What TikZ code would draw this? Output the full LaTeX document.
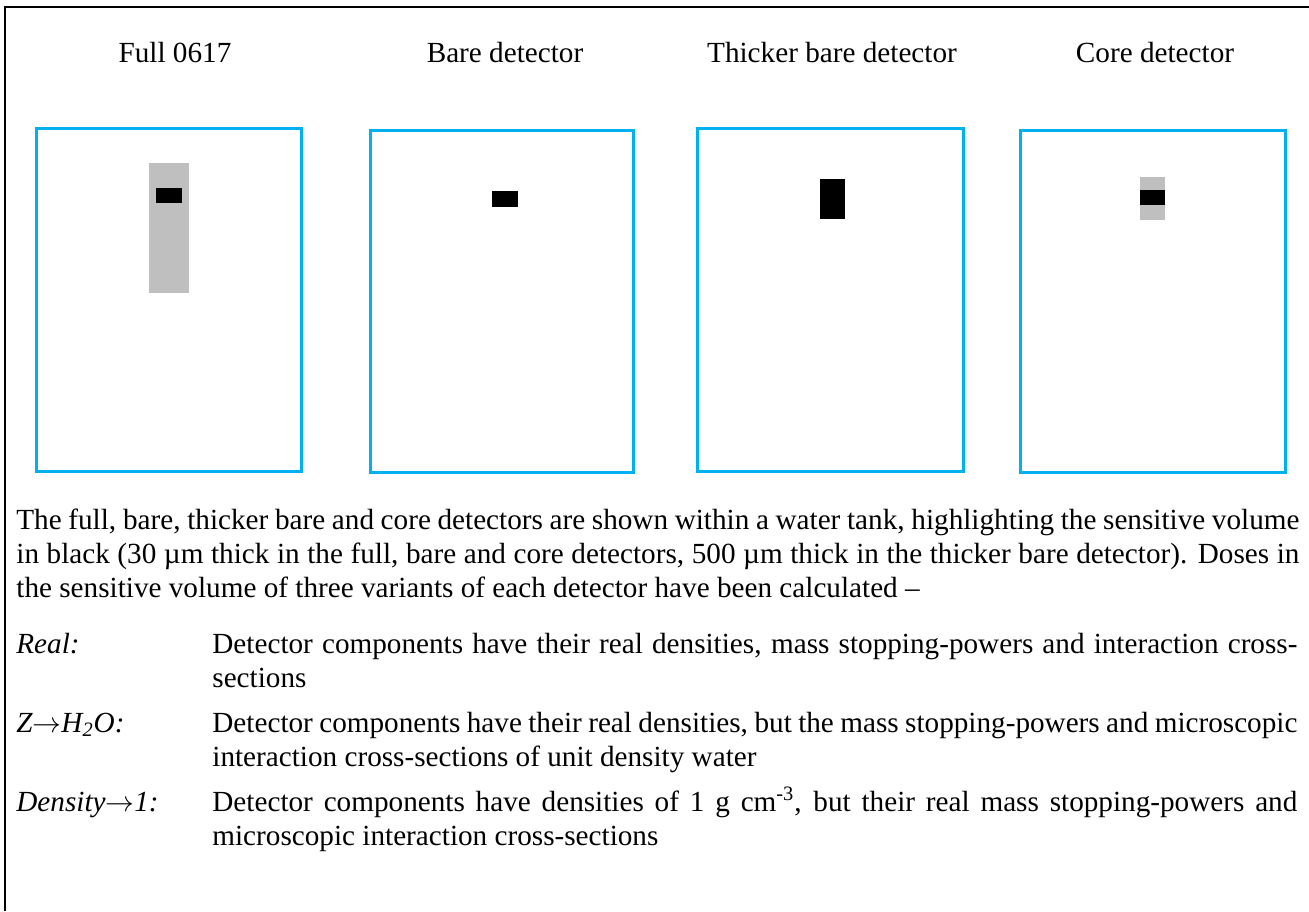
\documentclass[tikz,border=0pt]{standalone}
\usepackage{fontspec}
\setmainfont{Liberation Serif}
\usetikzlibrary{positioning}
\definecolor{tankblue}{RGB}{0,176,240}
\definecolor{holdergray}{RGB}{191,191,191}
\newcommand\bodyfont{\fontsize{14.6}{17}\selectfont}
\tikzset{
  tank/.style={draw=tankblue, line width=1.5pt},
  holder/.style={fill=holdergray},
  sensvol/.style={fill=black},
  title/.style={anchor=base, inner sep=0pt},
  txt/.style={anchor=base west, inner sep=0pt, align=justify},
  lab/.style={anchor=base west, inner sep=0pt, font=\bodyfont\itshape},
}
\begin{document}
\begin{tikzpicture}[x=0.5pt, y=-0.5pt, font=\bodyfont]
\useasboundingbox (0,0) rectangle (1309,911);
\draw[line width=1.25pt] (5,911) |- (1309,7);

% titles
\node[title] (t1) at (175,62) {Full 0617};
\node[title] (t2) at (505,62) {Bare detector};
\node[title] (t3) at (832,62) {Thicker bare detector};
\node[title] (t4) at (1155,62) {Core detector};

% water tanks
\draw[tank] (36,128) rectangle (301,471);
\fill[holder] (149,163) rectangle (189,293);
\fill[sensvol] (156,188) rectangle (182,203);

\draw[tank] (370,130) rectangle (633,472);
\fill[sensvol] (492,191) rectangle (518,207);

\draw[tank] (697,128) rectangle (963,471);
\fill[sensvol] (820,179) rectangle (845,219);

\draw[tank] (1020,130) rectangle (1285,472);
\fill[holder] (1140,177) rectangle (1165,220);
\fill[sensvol] (1140,190) rectangle (1165,205);

% caption
\node[txt, text width=641.5pt] (cap) at (16,529) {The full, bare, thicker bare and core detectors are shown within a water tank, highlighting the sensitive volume\linebreak in black (30 µm thick in the full, bare and core detectors, 500 µm thick in the thicker bare detector). Doses in\linebreak the sensitive volume of three variants of each detector have been calculated –};

\node[lab] (l1) at (16,653) {Real:};
\node[txt, text width=542.5pt] (d1) at (212,653) {Detector components have their real densities, mass stopping-powers and interaction cross-\linebreak sections};
\node[lab] (l2) at (16,732) {Z$\rightarrow$H\textsubscript{2}O:};
\node[txt, text width=542.5pt] (d2) at (212,732) {Detector components have their real densities, but the mass stopping-powers and microscopic\linebreak interaction cross-sections of unit density water};
\node[lab] (l3) at (16,811) {Density$\rightarrow$1:};
\node[txt, text width=542.5pt] (d3) at (212,811) {Detector components have densities of 1 g cm\textsuperscript{-3}, but their real mass stopping-powers and\linebreak microscopic interaction cross-sections};
\end{tikzpicture}
\end{document}
